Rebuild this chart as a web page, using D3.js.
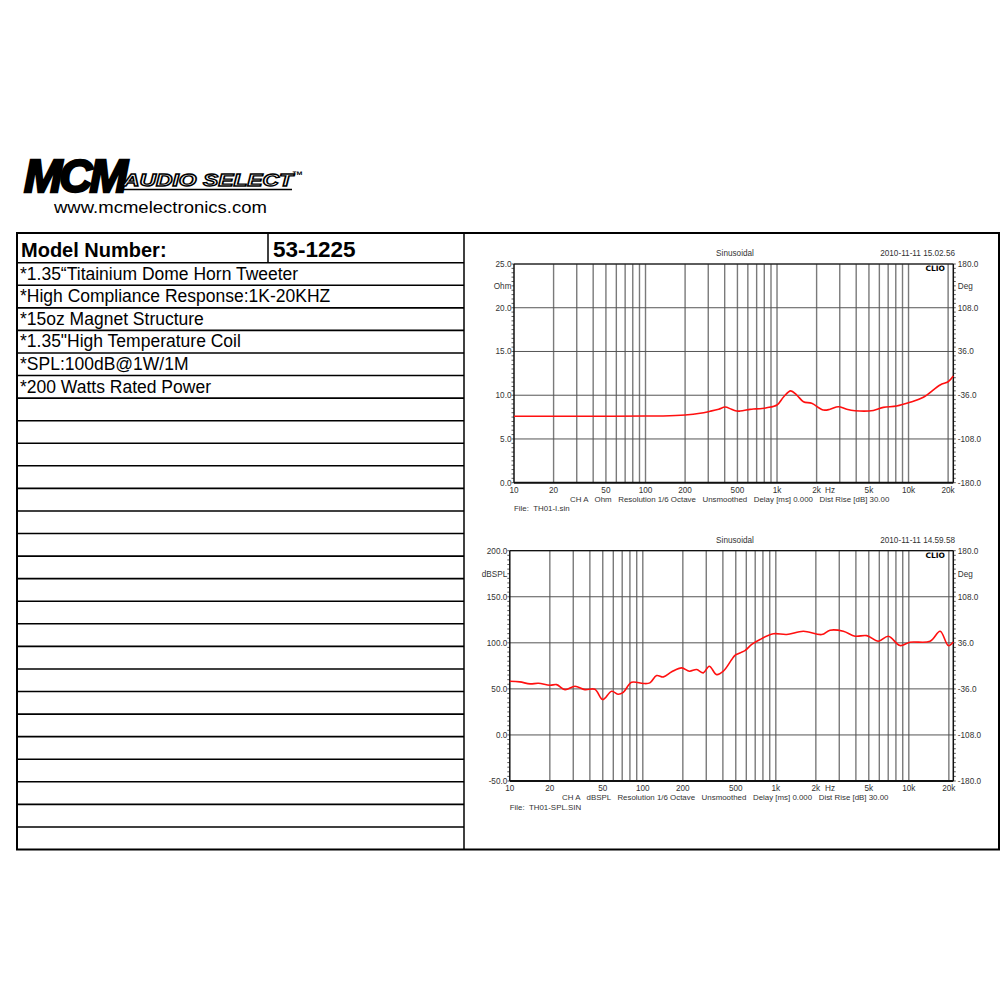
<!DOCTYPE html>
<html><head><meta charset="utf-8">
<script src="https://cdn.jsdelivr.net/npm/d3@7/dist/d3.min.js"></script>
<style>html,body{margin:0;padding:0;background:#fff;}svg{display:block;}</style>
</head><body>
<script>
// ---------- data ----------
const features = [
  "*1.35\u201cTitainium Dome Horn Tweeter",
  "*High Compliance Response:1K-20KHZ",
  "*15oz Magnet Structure",
  "*1.35\"High Temperature Coil",
  "*SPL:100dB@1W/1M",
  "*200 Watts Rated Power"
];
const modelLabel = "Model Number:";
const modelNumber = "53-1225";
const tableRowCount = 26;

const freqTickValues = [10, 20, 50, 100, 200, 500, 1000, 2000, 5000, 10000, 20000];
const freqTickLabels = ["10", "20", "50", "100", "200", "500", "1k", "2k", "5k", "10k", "20k"];
const gridFreqs = [20,30,40,50,60,70,80,90,100,200,300,400,500,600,700,800,900,1000,2000,3000,4000,5000,6000,7000,8000,9000,10000,20000];

const phaseTicks = [180, 108, 36, -36, -108, -180];
const phaseLabels = ["180.0", "108.0", "36.0", "-36.0", "-108.0", "-180.0"];

const ohmTicks = [25, 20, 15, 10, 5, 0];
const ohmLabels = ["25.0", "20.0", "15.0", "10.0", "5.0", "0.0"];
const splTicks = [200, 150, 100, 50, 0, -50];
const splLabels = ["200.0", "150.0", "100.0", "50.0", "0.0", "-50.0"];

const impFreq = [10, 20, 50, 100, 136, 200, 260, 309, 360, 403, 450, 494, 524, 624, 661, 742, 835, 1000, 1125, 1270, 1413, 1588, 1836, 2250, 2530, 2925, 3388, 3918, 5400, 6430, 8120, 10260, 12970, 17380, 20000, 21900];
const impOhm  = [7.59, 7.6, 7.6, 7.62, 7.63, 7.74, 7.93, 8.16, 8.4, 8.65, 8.4, 8.19, 8.19, 8.38, 8.42, 8.46, 8.57, 8.88, 9.83, 10.5, 10.02, 9.26, 9.07, 8.31, 8.39, 8.69, 8.39, 8.23, 8.26, 8.61, 8.77, 9.19, 9.76, 11.17, 11.54, 12.2];

const splFreq = [10, 11.9, 14.2, 16.4, 20, 22.5, 26, 30.9, 36.7, 43.6, 49.9, 58.3, 65.4, 71.3, 82.4, 101, 113, 127, 143, 165, 196, 224, 254, 285, 316, 359, 403, 466, 493, 538, 586, 659, 761, 958, 1207, 1610, 2215, 2556, 3220, 3945, 4825, 5900, 7015, 8590, 10200, 14450, 17200, 19800, 21600];
const splDb   = [58.3, 57.6, 55.4, 56.1, 53.9, 54.6, 49.2, 52.9, 49.2, 49.6, 38.4, 47.4, 44.2, 46.3, 57.2, 55.8, 56.5, 64.5, 63, 68.5, 72.8, 69.2, 71, 67.4, 74.6, 65.5, 69.2, 81.8, 86.5, 89, 91.6, 98.2, 103.6, 109.8, 109, 112.6, 109, 113.7, 112.6, 107.2, 107.8, 101.7, 107.2, 97, 100.7, 101.7, 112.6, 97, 101];

const charts = [
  {
    left: 514, right: 953.3, top: 264, bottom: 482.7,
    xDomain: [10, 21900], yDomain: [0, 25],
    yTicks: ohmTicks, yLabels: ohmLabels, unit: "Ohm",
    freq: impFreq, vals: impOhm,
    date: "2010-11-11 15.02.56",
    info: "CH A   Ohm   Resolution 1/6 Octave   Unsmoothed   Delay [ms] 0.000   Dist Rise [dB] 30.00",
    infoX: 570,
    file: "File:  TH01-I.sin"
  },
  {
    left: 509.8, right: 953.3, top: 550.7, bottom: 781,
    xDomain: [10, 21600], yDomain: [-50, 200],
    yTicks: splTicks, yLabels: splLabels, unit: "dBSPL",
    freq: splFreq, vals: splDb,
    date: "2010-11-11 14.59.58",
    info: "CH A   dBSPL   Resolution 1/6 Octave   Unsmoothed   Delay [ms] 0.000   Dist Rise [dB] 30.00",
    infoX: 562,
    file: "File:  TH01-SPL.SIN"
  }
];

// ---------- drawing ----------
const svg = d3.select("body").append("svg").attr("width", 1000).attr("height", 1000);
svg.append("rect").attr("width", 1000).attr("height", 1000).attr("fill", "#fff");

// Logo
const logo = svg.append("g");
logo.append("text").attr("x", 24).attr("y", 192)
  .attr("font-family", "Liberation Sans, Arial, sans-serif").attr("font-weight", "bold")
  .attr("font-style", "italic").attr("font-size", 46).attr("letter-spacing", -3)
  .attr("fill", "#000").attr("stroke", "#000").attr("stroke-width", 2.4)
  .text("MCM");
logo.append("text").attr("x", 123).attr("y", 186)
  .attr("font-family", "Liberation Sans, Arial, sans-serif").attr("font-weight", "bold")
  .attr("font-style", "italic").attr("font-size", 17)
  .attr("textLength", 170).attr("lengthAdjust", "spacingAndGlyphs")
  .attr("fill", "#fff").attr("stroke", "#000").attr("stroke-width", 1.3)
  .text("AUDIO SELECT");
logo.append("line").attr("x1", 120).attr("x2", 292).attr("y1", 189.5).attr("y2", 189.5)
  .attr("stroke", "#000").attr("stroke-width", 1.5);
logo.append("text").attr("x", 292).attr("y", 179)
  .attr("font-family", "Liberation Sans, Arial, sans-serif").attr("font-weight", "bold")
  .attr("font-size", 11).attr("fill", "#000").text("\u2122");
logo.append("text").attr("x", 54).attr("y", 213)
  .attr("font-family", "Liberation Sans, Arial, sans-serif")
  .attr("font-size", 17).attr("textLength", 213).attr("lengthAdjust", "spacingAndGlyphs")
  .attr("fill", "#000").text("www.mcmelectronics.com");

// Table
const tbl = svg.append("g");
const tX0 = 17, tX1 = 999, tY0 = 233, tY1 = 849.5, divX = 464, headBottom = 262.7;
const rowH = (tY1 - headBottom) / tableRowCount;
tbl.append("rect").attr("x", tX0).attr("y", tY0).attr("width", tX1 - tX0).attr("height", tY1 - tY0)
  .attr("fill", "none").attr("stroke", "#000").attr("stroke-width", 2);
tbl.append("line").attr("x1", divX).attr("x2", divX).attr("y1", tY0).attr("y2", tY1)
  .attr("stroke", "#000").attr("stroke-width", 1.5);
tbl.append("line").attr("x1", 268).attr("x2", 268).attr("y1", tY0).attr("y2", headBottom)
  .attr("stroke", "#000").attr("stroke-width", 1.5);
d3.range(tableRowCount).forEach(i => {
  const y = headBottom + i * rowH;
  tbl.append("line").attr("x1", tX0).attr("x2", divX).attr("y1", y).attr("y2", y)
    .attr("stroke", "#000").attr("stroke-width", 1.6);
});
tbl.append("text").attr("x", 21).attr("y", 256.5).attr("font-family", "Liberation Sans, Arial, sans-serif")
  .attr("font-weight", "bold").attr("font-size", 20).text(modelLabel);
tbl.append("text").attr("x", 273).attr("y", 256.5).attr("font-family", "Liberation Sans, Arial, sans-serif")
  .attr("font-weight", "bold").attr("font-size", 22.5).text(modelNumber);
features.forEach((f, i) => {
  tbl.append("text").attr("x", 20).attr("y", headBottom + (i + 1) * rowH - 5.5)
    .attr("font-family", "Liberation Sans, Arial, sans-serif").attr("font-size", 17.5)
    .attr("fill", "#000").text(f);
});

// Charts
const font = "Liberation Sans, Arial, sans-serif";
const fs = 8.2;
charts.forEach(c => {
  const g = svg.append("g");
  const x = d3.scaleLog().domain(c.xDomain).range([c.left, c.right]);
  const y = d3.scaleLinear().domain(c.yDomain).range([c.bottom, c.top]);
  const yPh = d3.scaleLinear().domain([-180, 180]).range([c.bottom, c.top]);

  // vertical gridlines
  g.selectAll(".vg").data(gridFreqs).join("line")
    .attr("x1", d => x(d)).attr("x2", d => x(d)).attr("y1", c.top).attr("y2", c.bottom)
    .attr("stroke", "#7a7a7a").attr("stroke-width", 1.4);
  // horizontal gridlines
  g.selectAll(".hg").data(c.yTicks).join("line")
    .attr("x1", c.left).attr("x2", c.right).attr("y1", d => y(d)).attr("y2", d => y(d))
    .attr("stroke", "#555").attr("stroke-width", 1);

  // minor ticks
  const yStep = (c.yTicks[0] - c.yTicks[1]) / 10;
  const minorY = d3.range(c.yDomain[0], c.yDomain[1] + yStep / 2, yStep);
  g.selectAll(".mty").data(minorY).join("line")
    .attr("x1", c.left - 2.5).attr("x2", c.left).attr("y1", d => y(d)).attr("y2", d => y(d))
    .attr("stroke", "#333").attr("stroke-width", 0.8);
  const minorPh = d3.range(-180, 180.1, 7.2);
  g.selectAll(".mtp").data(minorPh).join("line")
    .attr("x1", c.right).attr("x2", c.right + 2.5).attr("y1", d => yPh(d)).attr("y2", d => yPh(d))
    .attr("stroke", "#333").attr("stroke-width", 0.8);

  // frame
  g.append("line").attr("x1", c.left).attr("x2", c.right).attr("y1", c.top).attr("y2", c.top)
    .attr("stroke", "#111").attr("stroke-width", 1.2);
  g.append("line").attr("x1", c.left).attr("x2", c.right).attr("y1", c.bottom).attr("y2", c.bottom)
    .attr("stroke", "#111").attr("stroke-width", 2);
  g.append("line").attr("x1", c.left).attr("x2", c.left).attr("y1", c.top).attr("y2", c.bottom)
    .attr("stroke", "#111").attr("stroke-width", 1.5);
  g.append("line").attr("x1", c.right).attr("x2", c.right).attr("y1", c.top).attr("y2", c.bottom)
    .attr("stroke", "#111").attr("stroke-width", 1.5);

  // curve
  const pts = c.freq.map((f, i) => [f, c.vals[i]]);
  const line = d3.line().x(d => x(d[0])).y(d => y(d[1])).curve(d3.curveCatmullRom.alpha(0.5));
  g.append("path").attr("d", line(pts)).attr("fill", "none")
    .attr("stroke", "#ff1010").attr("stroke-width", 1.6);

  const txtCol = "#333";
  // left labels
  g.selectAll(".yl").data(c.yTicks).join("text")
    .attr("x", c.left - 2.5).attr("y", d => y(d) + 3).attr("text-anchor", "end")
    .attr("font-family", font).attr("font-size", fs).attr("fill", txtCol)
    .text((d, i) => c.yLabels[i]);
  g.append("text").attr("x", c.left - 2.5).attr("y", (y(c.yTicks[0]) + y(c.yTicks[1])) / 2 + 3)
    .attr("text-anchor", "end").attr("font-family", font).attr("font-size", fs).attr("fill", txtCol)
    .text(c.unit);
  // right labels
  g.selectAll(".pl").data(phaseTicks).join("text")
    .attr("x", c.right + 4.5).attr("y", d => yPh(d) + 3)
    .attr("font-family", font).attr("font-size", fs).attr("fill", txtCol)
    .text((d, i) => phaseLabels[i]);
  g.append("text").attr("x", c.right + 4.5).attr("y", (yPh(180) + yPh(108)) / 2 + 3)
    .attr("font-family", font).attr("font-size", fs).attr("fill", txtCol).text("Deg");
  // x labels
  g.selectAll(".xl").data(freqTickValues).join("text")
    .attr("x", d => x(d)).attr("y", c.bottom + 9.8).attr("text-anchor", "middle")
    .attr("font-family", font).attr("font-size", fs).attr("fill", txtCol)
    .text((d, i) => freqTickLabels[i]);
  g.append("text").attr("x", 830).attr("y", c.bottom + 9.8).attr("text-anchor", "middle")
    .attr("font-family", font).attr("font-size", fs).attr("fill", txtCol).text("Hz");
  g.append("text").attr("x", c.infoX).attr("y", c.bottom + 19)
    .attr("font-family", font).attr("font-size", 7.9).attr("fill", txtCol)
    .style("white-space", "pre").text(c.info);
  g.append("text").attr("x", c.left).attr("y", c.bottom + 28.5)
    .attr("font-family", font).attr("font-size", 7.9).attr("fill", txtCol)
    .style("white-space", "pre").text(c.file);
  // header
  g.append("text").attr("x", 735).attr("y", c.top - 8).attr("text-anchor", "middle")
    .attr("font-family", font).attr("font-size", fs).attr("fill", txtCol).text("Sinusoidal");
  g.append("text").attr("x", 955).attr("y", c.top - 8).attr("text-anchor", "end")
    .attr("font-family", font).attr("font-size", fs).attr("fill", txtCol).text(c.date);
  g.append("text").attr("x", 945).attr("y", c.top + 7).attr("text-anchor", "end")
    .attr("font-family", "DejaVu Sans, sans-serif").attr("font-weight", "bold")
    .attr("font-size", 7.5).attr("fill", "#000").text("CLIO");
});
</script>
</body></html>
